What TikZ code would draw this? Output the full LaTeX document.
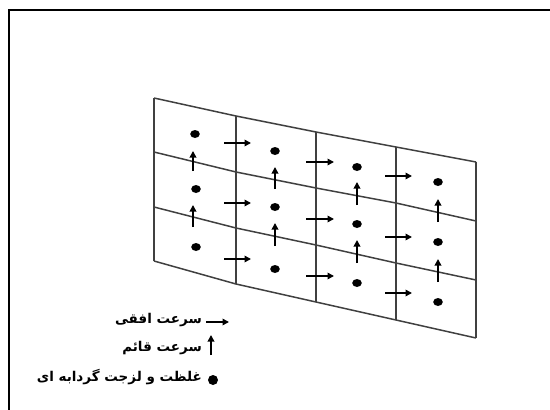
\documentclass[tikz,border=0pt]{standalone}
\usepackage{fontspec}
\usetikzlibrary{arrows.meta}
\TeXXeTstate=1
\newfontfamily\arabicfont[Script=Arabic]{DejaVu Sans}
\begin{document}
\begin{tikzpicture}[x=1pt,y=-1pt,
  gridv/.style={draw=black!75,line width=2pt},
  gridh/.style={draw=black!75,line width=1.5pt},
  vel/.style={draw=black,line width=1.7pt,-{Triangle[length=6.5pt,width=6.5pt]}},
  dot/.style={fill=black,draw=none},
  lbl/.style={anchor=east,inner sep=0pt,font=\arabicfont\bfseries\fontsize{13.5}{15}\selectfont}]
\useasboundingbox (0,0) rectangle (550,410);
\draw[line width=2.5pt] (9,420) -- (9,10) -- (560,10);
% grid points
\foreach \c/\x/\a/\b/\cc/\d in {0/154/98/152/207/261,1/236/116/172/228/284,2/316/132/188/245/302,3/396/147/203/263/320,4/476/162/221/280/338}{
  \coordinate (p\c0) at (\x,\a);
  \coordinate (p\c1) at (\x,\b);
  \coordinate (p\c2) at (\x,\cc);
  \coordinate (p\c3) at (\x,\d);
}
\foreach \c in {0,...,4}{\draw[gridv] (p\c0) -- (p\c3);}
\foreach \r in {0,...,3}{\draw[gridh] (p0\r) -- (p1\r) -- (p2\r) -- (p3\r) -- (p4\r);}
% dots
\foreach \x/\y in {195/134,196/189,196/247,275/151,275/207,275/269,357/167,357/224,357/283,438/182,438/242,438/302}{
  \fill[dot] (\x,\y) ellipse (4.8 and 4.0);
}
% vertical velocity arrows
\foreach \x/\ya/\yb in {193/171/151,193/227/205,275/189/167,275/246/223,357/205/182,357/263/240,438/222/199,438/282/259}{
  \coordinate (vs) at (\x,\ya); \coordinate (ve) at (\x,\yb);
  \draw[vel] (vs) -- (ve);
}
% horizontal velocity arrows
\foreach \xa/\xb/\y in {224/251/143,224/251/203,224/251/259,306/334/162,306/334/219,306/334/276,385/412/176,385/412/237,385/412/293}{
  \coordinate (hs) at (\xa,\y); \coordinate (he) at (\xb,\y);
  \draw[vel] (hs) -- (he);
}
% legend
\coordinate (l1a) at (206,322); \coordinate (l1b) at (229,322);
\draw[vel] (l1a) -- (l1b);
\node[lbl] (t1) at (202,320) {\beginR سرعت افقی\endR};
\coordinate (l2a) at (211,355); \coordinate (l2b) at (211,335);
\draw[vel] (l2a) -- (l2b);
\node[lbl] (t2) at (202,348) {\beginR سرعت قائم\endR};
\fill[dot] (213,380) ellipse (5 and 5);
\node[lbl] (t3) at (202,377) {\beginR غلظت و لزجت گردابه ای\endR};
\end{tikzpicture}
\end{document}
